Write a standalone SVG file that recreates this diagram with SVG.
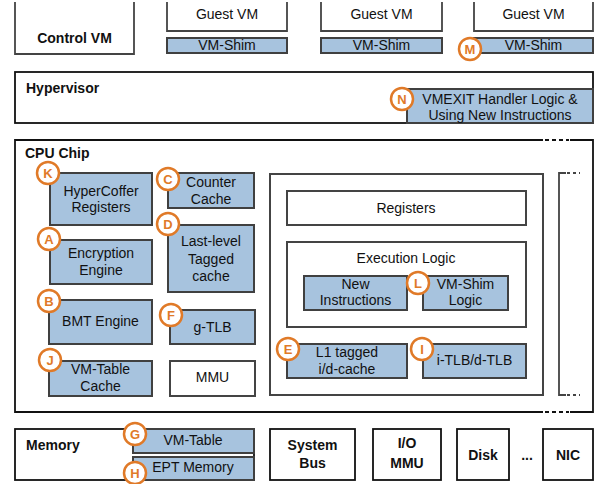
<svg xmlns="http://www.w3.org/2000/svg" width="597" height="484" viewBox="0 0 597 484">
<style>
text{font-family:"Liberation Sans",Arial,sans-serif;font-size:14px;fill:#111;text-anchor:middle}
.b{font-weight:bold}
.l{text-anchor:start}
.wbox{fill:#fff;stroke:#444;stroke-width:2}
.kbox{fill:#fff;stroke:#111;stroke-width:1.8}
.blue{fill:#a7c3de;stroke:#404040;stroke-width:2}
.tag circle{fill:#fff;stroke:#e07a28;stroke-width:2.5}
.tag text{fill:#e07a28;font-weight:bold;font-size:13px}
.open{fill:none;stroke:#444;stroke-width:1.8}
</style>
<g id="control-vm"><path class="open" d="M15 2V54H134V2"/><text class="b" x="74.5" y="43">Control VM</text></g>
<g id="guest-vm-1"><path class="open" d="M167 2V31H287V2"/><text x="227" y="19">Guest VM</text></g>
<g id="vm-shim-1"><rect class="blue" x="167" y="38" width="120" height="15"/><text x="227" y="50">VM-Shim</text></g>
<g id="guest-vm-2"><path class="open" d="M321 2V31H442V2"/><text x="381.5" y="19">Guest VM</text></g>
<g id="vm-shim-2"><rect class="blue" x="321" y="38" width="121" height="15"/><text x="381.5" y="50">VM-Shim</text></g>
<g id="guest-vm-3"><path class="open" d="M474 2V31H593V2"/><text x="533.5" y="19">Guest VM</text></g>
<g id="vm-shim-3"><rect class="blue" x="474" y="38" width="119" height="15"/><text x="533.5" y="50">VM-Shim</text></g>
<g id="hypervisor"><rect class="kbox" x="15" y="72" width="578" height="51"/><text class="b l" x="26" y="93">Hypervisor</text></g>
<g id="vmexit"><rect class="blue" x="407" y="89" width="186" height="34"/><text x="500" y="104">VMEXIT Handler Logic &amp;</text><text x="500" y="120">Using New Instructions</text></g>
<g id="cpu-chip">
<path fill="none" stroke="#111" stroke-width="1.8" d="M543 140H15V412H543M570 412H593V140H570"/>
<path fill="none" stroke="#111" stroke-width="1.8" stroke-dasharray="4 3" d="M545 140H569M545 412H569"/>
<text class="b l" x="25" y="158">CPU Chip</text>
</g>
<g id="core-bracket"><path fill="none" stroke="#444" stroke-width="1.8" d="M566 173H559V395H566"/><path fill="none" stroke="#444" stroke-width="1.8" stroke-dasharray="3 3" d="M567 173H580M567 395H580"/></g>
<g id="core"><rect class="wbox" x="270" y="174" width="273" height="221"/></g>
<g id="registers"><rect class="wbox" x="287" y="191" width="239" height="34"/><text x="406" y="213">Registers</text></g>
<g id="execution-logic"><rect class="wbox" x="287" y="242" width="239" height="85"/><text x="406" y="263">Execution Logic</text></g>
<g id="new-instructions"><rect class="blue" x="304" y="276" width="103" height="34"/><text x="355.5" y="289">New</text><text x="355.5" y="305">Instructions</text></g>
<g id="vm-shim-logic"><rect class="blue" x="423" y="276" width="85" height="34"/><text x="465.5" y="289">VM-Shim</text><text x="465.5" y="305">Logic</text></g>
<g id="l1-cache"><rect class="blue" x="287" y="344" width="120" height="34"/><text x="347" y="357">L1 tagged</text><text x="347" y="374">i/d-cache</text></g>
<g id="tlb"><rect class="blue" x="423" y="344" width="103" height="34"/><text x="474.5" y="365">i-TLB/d-TLB</text></g>
<g id="hypercoffer-registers"><rect class="blue" x="50" y="173" width="102" height="52"/><text x="101" y="196">HyperCoffer</text><text x="101" y="212">Registers</text></g>
<g id="encryption-engine"><rect class="blue" x="50" y="240" width="102" height="44"/><text x="101" y="258">Encryption</text><text x="101" y="275">Engine</text></g>
<g id="bmt-engine"><rect class="blue" x="49" y="300" width="103" height="44"/><text x="100.5" y="326">BMT Engine</text></g>
<g id="vm-table-cache"><rect class="blue" x="49" y="361" width="103" height="35"/><text x="100.5" y="374">VM-Table</text><text x="100.5" y="391">Cache</text></g>
<g id="counter-cache"><rect class="blue" x="168" y="173" width="86" height="35"/><text x="211" y="187">Counter</text><text x="211" y="204">Cache</text></g>
<g id="llc"><rect class="blue" x="168" y="225" width="86" height="67"/><text x="211" y="246">Last-level</text><text x="211" y="264">Tagged</text><text x="211" y="281">cache</text></g>
<g id="g-tlb"><rect class="blue" x="170" y="310" width="85" height="34"/><text x="212.5" y="332">g-TLB</text></g>
<g id="mmu"><rect class="wbox" x="170" y="361" width="85" height="35"/><text x="212.5" y="382">MMU</text></g>
<g id="memory"><rect class="kbox" x="15" y="429" width="239" height="51"/><text class="b l" x="26" y="450">Memory</text></g>
<g id="vm-table"><rect class="blue" x="133" y="429" width="121" height="24"/><text x="193" y="445">VM-Table</text></g>
<g id="ept-memory"><rect class="blue" x="133" y="457" width="121" height="23"/><text x="193" y="472">EPT Memory</text></g>
<g id="system-bus"><rect class="kbox" x="270" y="429" width="85" height="51"/><text class="b" x="312.5" y="450">System</text><text class="b" x="312.5" y="468">Bus</text></g>
<g id="io-mmu"><rect class="kbox" x="373" y="429" width="68" height="51"/><text class="b" x="407" y="448">I/O</text><text class="b" x="407" y="468">MMU</text></g>
<g id="disk"><rect class="kbox" x="457" y="429" width="52" height="51"/><text class="b" x="483" y="460">Disk</text></g>
<text class="b" x="527" y="460">...</text>
<g id="nic"><rect class="kbox" x="543" y="429" width="50" height="51"/><text class="b" x="568" y="460">NIC</text></g>
<g id="tags">
<g class="tag"><circle cx="470" cy="49" r="11"/><text x="470" y="54">M</text></g>
<g class="tag"><circle cx="402" cy="99" r="11"/><text x="402" y="104">N</text></g>
<g class="tag"><circle cx="48" cy="173" r="11"/><text x="48" y="178">K</text></g>
<g class="tag"><circle cx="49" cy="239" r="11"/><text x="49" y="244">A</text></g>
<g class="tag"><circle cx="49" cy="301" r="11"/><text x="49" y="306">B</text></g>
<g class="tag"><circle cx="50" cy="360" r="11"/><text x="50" y="365">J</text></g>
<g class="tag"><circle cx="168" cy="179" r="11"/><text x="168" y="184">C</text></g>
<g class="tag"><circle cx="168" cy="224" r="11"/><text x="168" y="229">D</text></g>
<g class="tag"><circle cx="171" cy="315" r="11"/><text x="171" y="320">F</text></g>
<g class="tag"><circle cx="418" cy="283" r="11"/><text x="418" y="288">L</text></g>
<g class="tag"><circle cx="288" cy="349" r="11"/><text x="288" y="354">E</text></g>
<g class="tag"><circle cx="422" cy="349" r="11"/><text x="422" y="354">I</text></g>
<g class="tag"><circle cx="135" cy="434" r="11"/><text x="135" y="439">G</text></g>
<g class="tag"><circle cx="135" cy="473" r="11"/><text x="135" y="478">H</text></g>
</g>
<g id="connectors"></g>
</svg>
